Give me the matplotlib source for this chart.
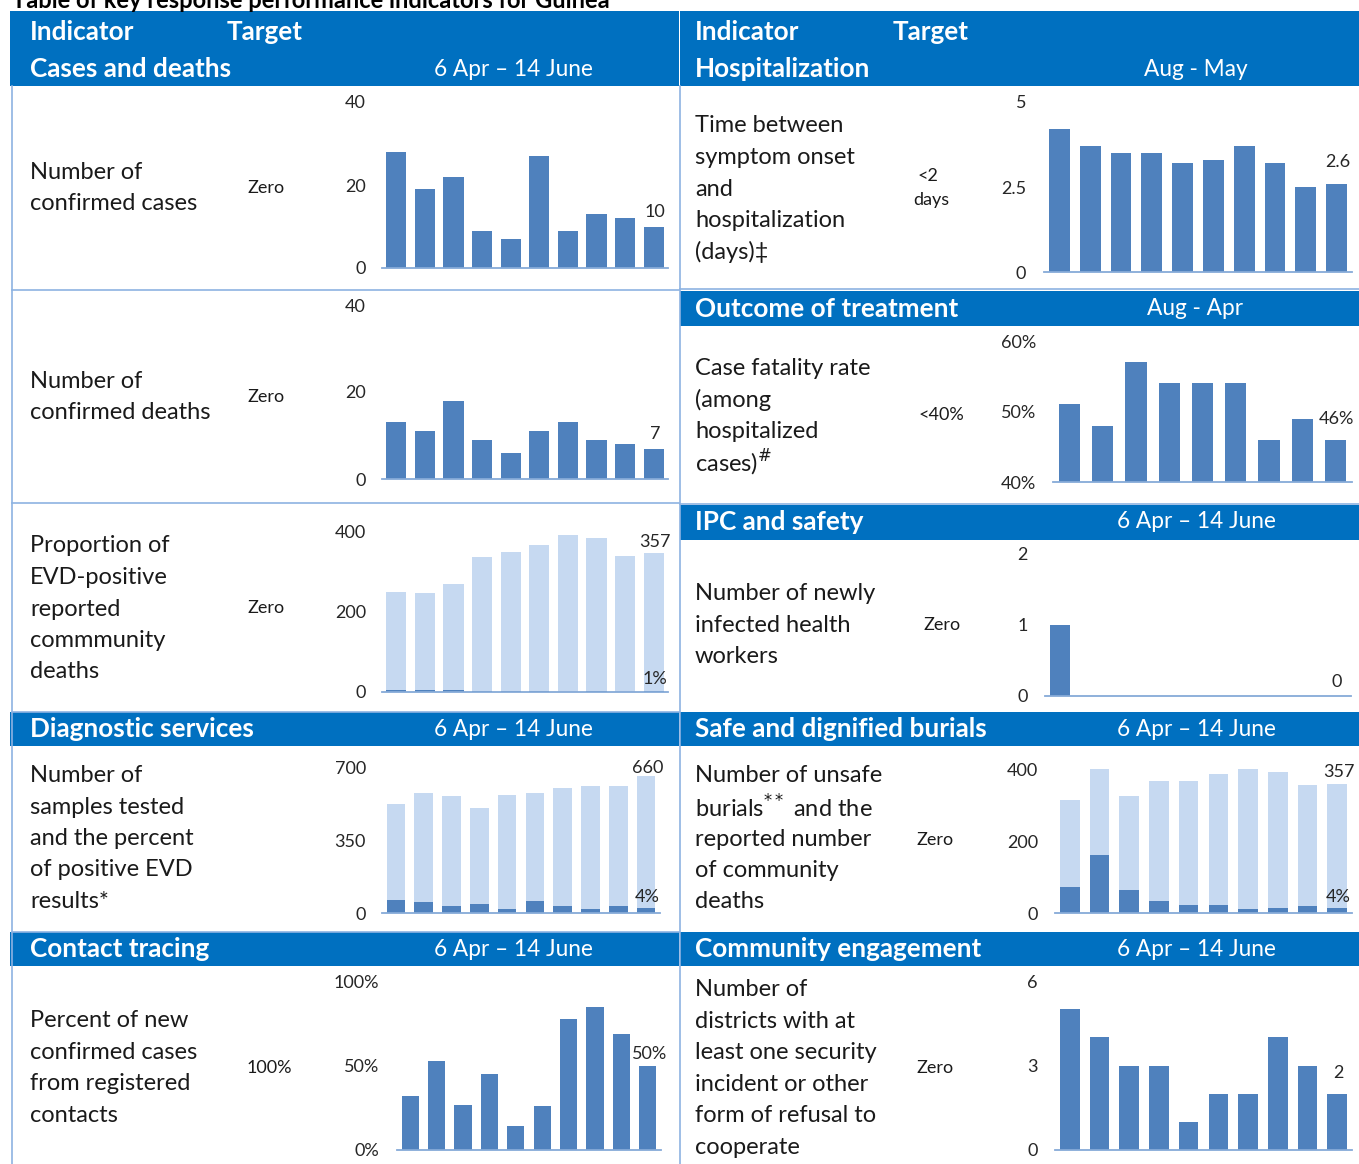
import matplotlib
matplotlib.use("Agg")
import matplotlib.pyplot as plt
from matplotlib.patches import Rectangle

# ---------------- data ----------------
cases = [28, 19, 22, 9, 7, 27, 9, 13, 12, 10]
deaths = [13, 11, 18, 9, 6, 11, 13, 9, 8, 7]
community_deaths_total = [251, 247, 271, 337, 351, 368, 392, 384, 341, 348]
community_deaths_pos = [6, 4, 6, 3, 3, 3, 0, 3, 0, 2]
samples_total = [527, 580, 566, 507, 572, 580, 605, 613, 613, 660]
samples_pos = [65, 52, 34, 45, 19, 60, 34, 19, 34, 26]
contact_pct = [32, 53, 27, 45, 14, 26, 78, 85, 69, 50]
hosp_days = [4.2, 3.7, 3.5, 3.5, 3.2, 3.3, 3.7, 3.2, 2.5, 2.6]
cfr_pct = [51, 48, 57, 54, 54, 54, 46, 49, 46]
hw_infected = [1, 0, 0, 0, 0, 0, 0, 0, 0, 0]
burials_total = [313, 400, 325, 366, 366, 385, 400, 393, 355, 357]
burials_unsafe = [72, 160, 63, 33, 22, 22, 11, 15, 19, 15]
security_incidents = [5, 4, 3, 3, 1, 2, 2, 4, 3, 2]

# ---------------- style ----------------
W, H = 1359, 1164
FONT = ["Lato", "DejaVu Sans"]
plt.rcParams["font.family"] = FONT
HEAD = "#0070C0"
DARK = "#4F81BD"
LIGHT = "#C6D9F1"
AXLINE = "#86AAD8"
BORDER = "#8DB3E2"
TXT = "#1A1A1A"

BODY = 17
HB = 18.8      # bold header size
HD = 16.3      # header date size
TS = 13        # target / tick / label size

fig = plt.figure(figsize=(W / 100, H / 100), dpi=100)


def fx(x):
    return x / W


def fy(y):
    return 1 - y / H


def rect(x0, y0, x1, y1, color):
    fig.add_artist(Rectangle((fx(x0), fy(y1)), fx(x1) - fx(x0), fy(y0) - fy(y1),
                             transform=fig.transFigure, facecolor=color,
                             edgecolor="none", zorder=1))


def hline(x0, x1, y, color=BORDER, lw=1.2):
    fig.add_artist(plt.Line2D([fx(x0), fx(x1)], [fy(y), fy(y)],
                              transform=fig.transFigure, color=color, lw=lw, zorder=2))


def vline(x, y0, y1, color=BORDER, lw=1.2):
    fig.add_artist(plt.Line2D([fx(x), fx(x)], [fy(y0), fy(y1)],
                              transform=fig.transFigure, color=color, lw=lw, zorder=2))


def txt(x, y, s, size=BODY, weight="normal", color=TXT, ha="left"):
    fig.text(fx(x), fy(y), s, fontsize=size, fontweight=weight, color=color,
             ha=ha, va="center", zorder=5)


def lines(x, yc, items, size=BODY, step=31.5):
    n = len(items)
    for i, s in enumerate(items):
        txt(x, yc + (i - (n - 1) / 2) * step, s, size=size)


# title (cropped at the top in the reference)
txt(12, 1, "Table of key response performance indicators for Guinea", size=17,
    weight="bold", color="black")

# header bands
rect(10, 11, 679, 86, HEAD)
rect(680, 11, W, 86, HEAD)
for (x0, x1, y0, y1) in [(10, 679, 712, 746), (680, W, 712, 746), (10, 679, 932, 966),
                         (680, W, 932, 966), (680, W, 291, 326), (680, W, 505, 540)]:
    rect(x0, y0, x1, y1, HEAD)

# borders
vline(12, 86, H)
vline(679.5, 86, H)
hline(12, 679, 290)
hline(12, 679, 503)
hline(680, W, 289)
hline(680, W, 504)
hline(12, 679, 712)
hline(12, 679, 932)

WH = "white"
txt(30, 32, "Indicator", HB, "bold", WH)
txt(227, 32, "Target", HB, "bold", WH)
txt(30, 69, "Cases and deaths", HB, "bold", WH)
txt(513, 69, "6 Apr – 14 June", HD, "normal", WH, "center")
txt(695, 32, "Indicator", HB, "bold", WH)
txt(893, 32, "Target", HB, "bold", WH)
txt(695, 69, "Hospitalization", HB, "bold", WH)
txt(1196, 69, "Aug - May", HD, "normal", WH, "center")
txt(695, 309, "Outcome of treatment", HB, "bold", WH)
txt(1195, 309, "Aug - Apr", HD, "normal", WH, "center")
txt(695, 522, "IPC and safety", HB, "bold", WH)
txt(1196, 522, "6 Apr – 14 June", HD, "normal", WH, "center")
txt(30, 729, "Diagnostic services", HB, "bold", WH)
txt(513, 729, "6 Apr – 14 June", HD, "normal", WH, "center")
txt(695, 729, "Safe and dignified burials", HB, "bold", WH)
txt(1196, 729, "6 Apr – 14 June", HD, "normal", WH, "center")
txt(30, 949, "Contact tracing", HB, "bold", WH)
txt(513, 949, "6 Apr – 14 June", HD, "normal", WH, "center")
txt(695, 949, "Community engagement", HB, "bold", WH)
txt(1196, 949, "6 Apr – 14 June", HD, "normal", WH, "center")

# indicator texts
lines(30, 188, ["Number of", "confirmed cases"])
lines(30, 397, ["Number of", "confirmed deaths"])
lines(30, 609, ["Proportion of", "EVD-positive", "reported", "commmunity", "deaths"])
lines(30, 838.5, ["Number of", "samples tested", "and the percent", "of positive EVD", "results*"])
lines(30, 1068, ["Percent of new", "confirmed cases", "from registered", "contacts"])
lines(695, 189, ["Time between", "symptom onset", "and", "hospitalization", "(days)‡"])
lines(695, 416, ["Case fatality rate", "(among", "hospitalized", "cases)$^{\\#}$"])
lines(695, 625, ["Number of newly", "infected health", "workers"])
lines(695, 839, ["Number of unsafe", "burials$^{**}$ and the", "reported number", "of community", "deaths"])
lines(695, 1068.5, ["Number of", "districts with at", "least one security", "incident or other",
                    "form of refusal to", "cooperate"])

# targets
txt(266, 188, "Zero", TS, ha="center")
txt(266, 397, "Zero", TS, ha="center")
txt(266, 608, "Zero", TS, ha="center")
txt(269, 1068, "100%", TS, ha="center")
txt(928, 176, "<2", TS, ha="center")
txt(931, 200, "days", TS, ha="center")
txt(941, 415, "<40%", TS, ha="center")
txt(942, 625, "Zero", TS, ha="center")
txt(935, 840, "Zero", TS, ha="center")
txt(935, 1068, "Zero", TS, ha="center")


# ---------------- charts ----------------
def make_ax(x0, x1, ytop, ybot, ylim, ticks, ticklabels, pad_px=16):
    ax = fig.add_axes([fx(x0), fy(ybot), fx(x1) - fx(x0), fy(ytop) - fy(ybot)])
    ax.set_facecolor("none")
    for s in ["top", "right", "left"]:
        ax.spines[s].set_visible(False)
    ax.spines["bottom"].set_color(AXLINE)
    ax.spines["bottom"].set_linewidth(1.3)
    ax.set_ylim(*ylim)
    ax.set_yticks(ticks)
    ax.set_yticklabels(ticklabels)
    ax.tick_params(axis="y", length=0, pad=pad_px * 0.72, labelsize=TS, labelcolor="#262626")
    ax.set_xticks([])
    return ax


def label(ax, x, y, s, dy=4):
    ax.annotate(s, (x, y), xytext=(1, dy), textcoords="offset points", ha="center",
                va="bottom", fontsize=TS, color="#262626", annotation_clip=False)


# cases
ax = make_ax(382, 668, 102, 268, (0, 40), [0, 20, 40], ["0", "20", "40"])
n = len(cases)
ax.bar(range(n), cases, width=0.7, color=DARK)
ax.set_xlim(-0.5, n - 0.5)
label(ax, n - 1, cases[-1], "10", 5)

# deaths
ax = make_ax(382, 668, 305, 479, (0, 40), [0, 20, 40], ["0", "20", "40"])
n = len(deaths)
ax.bar(range(n), deaths, width=0.7, color=DARK)
ax.set_xlim(-0.5, n - 0.5)
label(ax, n - 1, deaths[-1], "7", 5)

# community deaths
ax = make_ax(382, 668, 532, 692, (0, 400), [0, 200, 400], ["0", "200", "400"])
n = len(community_deaths_total)
ax.bar(range(n), community_deaths_total, width=0.7, color=LIGHT)
ax.bar(range(n), community_deaths_pos, width=0.7, color=DARK)
ax.set_xlim(-0.5, n - 0.5)
label(ax, n - 1, community_deaths_total[-1], "357", 2)
label(ax, n - 1, community_deaths_pos[-1], "1%", 3)

# samples
ax = make_ax(382, 660, 768, 913, (0, 700), [0, 350, 700], ["0", "350", "700"])
n = len(samples_total)
ax.bar(range(n), samples_total, width=0.67, color=LIGHT)
ax.bar(range(n), samples_pos, width=0.67, color=DARK)
ax.set_xlim(-0.5, n - 0.5)
label(ax, n - 1, samples_total[-1], "660", 0)
label(ax, n - 1, samples_pos[-1], "4%", 2)

# contact tracing
ax = make_ax(397, 661, 982, 1150, (0, 100), [0, 50, 100], ["0%", "50%", "100%"], pad_px=18)
n = len(contact_pct)
ax.bar(range(n), contact_pct, width=0.65, color=DARK)
ax.set_xlim(-0.5, n - 0.5)
label(ax, n - 1, contact_pct[-1], "50%", 3)

# hospitalization delay
ax = make_ax(1044, 1352, 102, 272, (0, 5), [0, 2.5, 5], ["0", "2.5", "5"], pad_px=18)
n = len(hosp_days)
ax.bar(range(n), hosp_days, width=0.68, color=DARK)
ax.set_xlim(-0.5, n - 0.5)
label(ax, n - 1, hosp_days[-1], "2.6", 10)

# CFR
ax = make_ax(1053, 1352, 341, 482, (40, 60), [40, 50, 60], ["40%", "50%", "60%"], pad_px=17)
n = len(cfr_pct)
ax.bar(range(n), cfr_pct, width=0.64, color=DARK)
ax.set_xlim(-0.5, n - 0.5)
label(ax, n - 1, cfr_pct[-1], "46%", 9)

# health workers
ax = make_ax(1045, 1351, 553, 696, (0, 2), [0, 1, 2], ["0", "1", "2"], pad_px=17)
n = len(hw_infected)
ax.bar(range(n), hw_infected, width=0.65, color=DARK)
ax.set_xlim(-0.5, n - 0.5)
label(ax, n - 1, hw_infected[-1], "0", 4)

# burials
ax = make_ax(1055, 1352, 769, 913, (0, 400), [0, 200, 400], ["0", "200", "400"], pad_px=17)
n = len(burials_total)
ax.bar(range(n), burials_total, width=0.66, color=LIGHT)
ax.bar(range(n), burials_unsafe, width=0.66, color=DARK)
ax.set_xlim(-0.5, n - 0.5)
label(ax, n - 1, burials_total[-1], "357", 3)
label(ax, n - 1, burials_unsafe[-1], "4%", 2)

# community engagement
ax = make_ax(1055, 1352, 981, 1150, (0, 6), [0, 3, 6], ["0", "3", "6"], pad_px=17)
n = len(security_incidents)
ax.bar(range(n), security_incidents, width=0.66, color=DARK)
ax.set_xlim(-0.5, n - 0.5)
label(ax, n - 1, security_incidents[-1], "2", 9)

fig.savefig("out.png", dpi=100)
